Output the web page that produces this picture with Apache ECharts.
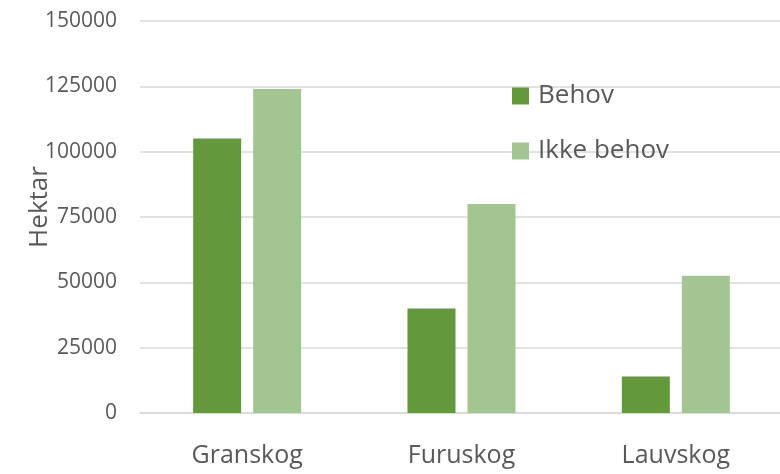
<!DOCTYPE html>
<html>
<head>
<meta charset="utf-8">
<script src="https://cdn.jsdelivr.net/npm/echarts@6/dist/echarts.min.js"></script>
<style>
  html, body { margin: 0; padding: 0; background: #fff; }
  #chart { width: 780px; height: 474px; }
</style>
</head>
<body>
<div id="chart"></div>
<script>
// data
const categories = ['Granskog', 'Furuskog', 'Lauvskog'];
const behov = [105000, 40000, 14000];
const ikkeBehov = [124000, 80000, 52500];

const font = 'Open Sans';
const grey = '#595959';

let chart = echarts.init(document.getElementById('chart'));

chart.setOption({
    animation: false,
    grid: {
        left: 140,
        top: 21,
        width: 643,
        height: 392,
        outerBoundsMode: 'none'
    },
    legend: {
        orient: 'vertical',
        left: 512,
        top: 83,
        padding: 0,
        icon: 'rect',
        itemWidth: 17,
        itemHeight: 17,
        itemGap: 29,
        textStyle: {
            fontFamily: font,
            fontSize: 26,
            color: grey,
            lineHeight: 26,
            padding: [0, 0, 0, 4]
        },
        data: ['Behov', 'Ikke behov']
    },
    xAxis: {
        type: 'category',
        data: categories,
        axisTick: { show: false },
        axisLine: { lineStyle: { color: '#d9d9d9', width: 1.5 } },
        axisLabel: {
            fontFamily: font,
            fontSize: 25,
            color: grey,
            margin: 30
        }
    },
    yAxis: {
        type: 'value',
        min: 0,
        max: 150000,
        interval: 25000,
        name: 'Hektar',
        nameLocation: 'middle',
        nameRotate: 90,
        nameGap: 87,
        nameMoveOverlap: false,
        nameTextStyle: {
            fontFamily: font,
            fontSize: 26,
            color: grey,
            padding: [0, 0, 0, 20]
        },
        axisLine: { show: false },
        axisTick: { show: false },
        splitLine: { lineStyle: { color: '#d9d9d9', width: 1.5 } },
        axisLabel: {
            fontFamily: font,
            fontSize: 21,
            color: grey,
            margin: 23,
            formatter: function (v) { return String(v); }
        }
    },
    series: [
        {
            name: 'Behov',
            type: 'bar',
            barWidth: 48,
            barGap: '25%',
            itemStyle: { color: '#63983d' },
            data: behov
        },
        {
            name: 'Ikke behov',
            type: 'bar',
            barWidth: 48,
            itemStyle: { color: '#a3c591' },
            data: ikkeBehov
        }
    ]
});
</script>
</body>
</html>
